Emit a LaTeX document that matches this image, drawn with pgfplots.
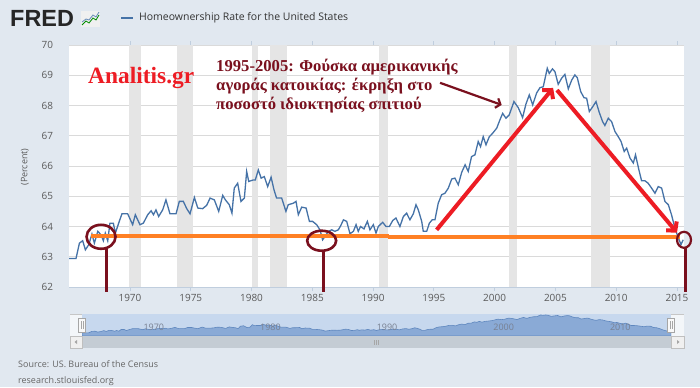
\documentclass[border=0pt]{standalone}
\usepackage{pgfplots}
\pgfplotsset{compat=1.18}
\usepackage{pgfplotstable}
\usepackage{fontspec}
\setmainfont{Open Sans}
\newfontfamily\lserif{Liberation Serif}
\newfontfamily\lsans{Liberation Sans}
\usetikzlibrary{arrows.meta}
\definecolor{bgc}{RGB}{225,232,240}
\definecolor{fredblue}{RGB}{69,114,167}
\definecolor{recg}{RGB}{229,229,229}
\definecolor{gridc}{RGB}{218,218,218}
\definecolor{axc}{RGB}{192,206,222}
\definecolor{tickc}{RGB}{90,90,90}
\definecolor{annred}{RGB}{237,28,36}
\definecolor{darkred}{RGB}{122,16,30}
\definecolor{orangec}{RGB}{255,128,36}
\definecolor{navbg}{RGB}{199,216,238}
\definecolor{navfill}{RGB}{138,170,214}
\definecolor{navline}{RGB}{95,135,190}
\definecolor{navtext}{RGB}{120,128,145}
\definecolor{scrollc}{RGB}{196,204,212}

\pgfplotstableread{
year value
1965.00 62.94
1965.56 62.94
1965.84 63.45
1966.11 63.53
1966.33 63.23
1966.61 63.40
1966.87 63.75
1967.07 63.45
1967.35 63.84
1967.61 63.73
1967.81 63.53
1967.97 63.78
1968.17 63.53
1968.35 64.11
1968.63 64.11
1968.80 63.78
1969.12 64.17
1969.34 64.42
1969.81 64.42
1970.22 64.06
1970.44 64.39
1970.82 64.06
1971.10 64.11
1971.46 64.39
1971.74 64.52
1971.93 64.39
1972.14 64.55
1972.36 64.33
1972.69 64.55
1972.96 64.88
1973.29 64.42
1973.79 64.42
1974.06 64.83
1974.39 64.83
1974.67 64.59
1974.94 64.42
1975.30 64.96
1975.58 64.61
1975.98 64.59
1976.31 64.70
1976.59 64.94
1976.94 64.88
1977.30 64.50
1977.63 65.03
1977.85 64.88
1978.17 64.72
1978.39 64.44
1978.58 65.27
1978.86 65.43
1979.13 64.83
1979.41 64.94
1979.60 65.82
1979.77 65.49
1980.15 65.54
1980.31 65.54
1980.56 65.87
1980.79 65.60
1981.05 65.65
1981.33 65.32
1981.61 65.63
1981.85 65.21
1982.06 64.94
1982.48 64.94
1982.83 64.50
1983.02 64.72
1983.44 64.77
1983.66 64.83
1983.85 64.39
1984.13 64.64
1984.49 64.61
1984.76 64.17
1985.02 64.17
1985.36 64.06
1985.63 63.89
1985.85 63.56
1986.04 63.67
1986.32 63.84
1986.60 63.89
1986.86 63.84
1987.14 63.89
1987.34 64.03
1987.56 64.22
1987.83 64.17
1988.10 63.76
1988.38 63.84
1988.60 64.06
1988.78 63.84
1988.97 64.00
1989.25 63.92
1989.53 64.17
1989.74 63.89
1990.02 64.06
1990.24 63.78
1990.43 64.00
1990.79 64.14
1991.06 64.00
1991.34 64.00
1991.62 64.20
1991.88 64.28
1992.21 64.00
1992.49 64.33
1992.76 64.44
1993.03 64.22
1993.31 64.42
1993.53 64.72
1993.72 64.55
1994.00 64.17
1994.13 63.84
1994.41 63.84
1994.63 64.11
1994.86 64.22
1995.09 64.22
1995.36 64.77
1995.64 65.05
1995.91 65.10
1996.19 65.27
1996.47 65.57
1996.73 65.60
1997.01 65.38
1997.29 65.79
1997.57 66.04
1997.83 65.82
1998.10 66.31
1998.38 66.37
1998.65 66.81
1998.84 66.64
1999.06 66.97
1999.29 66.70
1999.56 66.97
1999.83 67.08
2000.17 67.25
2000.43 67.52
2000.66 67.74
2000.93 67.58
2001.20 67.69
2001.59 68.13
2001.94 67.93
2002.30 67.60
2002.57 68.04
2002.85 68.35
2003.13 68.02
2003.45 68.41
2003.73 68.59
2004.00 68.62
2004.33 69.23
2004.49 69.06
2004.76 69.21
2004.96 69.12
2005.23 68.70
2005.51 68.90
2005.78 69.03
2006.06 68.55
2006.34 68.84
2006.60 69.01
2006.80 68.92
2007.08 68.46
2007.35 68.26
2007.57 68.24
2007.79 67.80
2008.07 67.96
2008.34 68.13
2008.60 67.78
2008.88 67.47
2009.07 67.34
2009.35 67.58
2009.62 67.47
2009.90 67.14
2010.17 66.97
2010.40 66.81
2010.66 66.48
2010.86 66.59
2011.14 66.26
2011.41 66.10
2011.59 66.37
2011.87 65.87
2012.09 65.51
2012.37 65.51
2012.63 65.43
2012.91 65.27
2013.19 65.10
2013.46 65.32
2013.74 65.27
2014.01 64.83
2014.29 64.72
2014.55 64.39
2014.83 63.95
2015.10 63.64
2015.33 63.40
2015.51 63.56
}\homedata

\begin{document}
\begin{tikzpicture}
\begin{scope}[x=1bp,y=1bp]
\fill[bgc] (0,0) rectangle (700,387);
\useasboundingbox (0,0) rectangle (700,387);
% header
\node[anchor=west, inner sep=0, font=\lsans\bfseries\fontsize{23.5}{24}\selectfont, text=black!85] at (10,369) {FRED};
\fill[gray!12] (81,360) rectangle (100,376);
\draw[green!55!black, line width=0.8bp] (82,362) -- (86,366) -- (89,364) -- (93,369) -- (96,367) -- (99,372);
\draw[fredblue!80, line width=0.8bp] (82,365) -- (86,368) -- (89,367) -- (93,372) -- (96,370) -- (99,375);
\draw[fredblue, line width=1.5bp] (121,369) -- (133,369);
\node[anchor=west, inner sep=0, font=\fontsize{10.5}{12}\selectfont, text=black!80] at (139,369) {Homeownership Rate for the United States};
% y label
\node[rotate=90, inner sep=0, font=\fontsize{9}{10}\selectfont, text=tickc] at (25,220) {(Percent)};
% navigator frame
\fill[white!60!bgc] (70,51) rectangle (684,73);
\draw[gray!45, line width=0.8bp] (70,73) -- (684,73);
\end{scope}

\begin{axis}[
  at={(69.2bp,100bp)}, anchor=south west,
  scale only axis, width=614.8bp, height=242bp,
  xmin=1965, xmax=2015.58, ymin=62, ymax=70,
  axis background/.style={fill=white},
  axis line style={draw=none},
  ytick={62,63,...,70}, xtick={1970,1975,...,2015},
  ymajorgrids, major grid style={draw=gridc, line width=0.8bp},
  ytick style={draw=none},
  xtick style={draw=axc, line width=0.8bp},
  tick align=outside, major tick length=4bp,
  /pgf/number format/assume math mode=true,
  /pgf/number format/1000 sep={},
  tick label style={font=\fontsize{10}{12}\selectfont, text=tickc},
  yticklabel style={inner sep=0, anchor=east, xshift=-12bp},
  xticklabel style={inner sep=0, anchor=north, yshift=-3bp},
  clip=false,
]
% recessions
\addplot[fill=recg, draw=none] coordinates {(1969.92,62) (1969.92,70) (1970.88,70) (1970.88,62)} -- cycle;
\addplot[fill=recg, draw=none] coordinates {(1973.83,62) (1973.83,70) (1975.21,70) (1975.21,62)} -- cycle;
\addplot[fill=recg, draw=none] coordinates {(1980.0,62) (1980.0,70) (1980.54,70) (1980.54,62)} -- cycle;
\addplot[fill=recg, draw=none] coordinates {(1981.5,62) (1981.5,70) (1982.88,70) (1982.88,62)} -- cycle;
\addplot[fill=recg, draw=none] coordinates {(1990.5,62) (1990.5,70) (1991.21,70) (1991.21,62)} -- cycle;
\addplot[fill=recg, draw=none] coordinates {(2001.17,62) (2001.17,70) (2001.88,70) (2001.88,62)} -- cycle;
\addplot[fill=recg, draw=none] coordinates {(2007.92,62) (2007.92,70) (2009.46,70) (2009.46,62)} -- cycle;
\draw[axc, line width=1bp] (rel axis cs:0,0) -- (rel axis cs:1,0);

\addplot[fredblue, line width=1.3bp] table[x=year, y=value] {\homedata};

% annotations
\addplot[orangec, line width=4.5bp] coordinates {(1966.79,63.69) (1991.3,63.69)};
\addplot[orangec, line width=4.5bp] coordinates {(1991.2,63.65) (2015.25,63.65)};
\addplot[annred, line width=4bp, -{Straight Barb[length=6bp, width=14bp]}] coordinates {(1995.23,63.89) (2004.81,68.58)};
\addplot[annred, line width=4bp, -{Straight Barb[length=6bp, width=14bp]}] coordinates {(2005.13,68.51) (2015.0,63.80)};
\addplot[darkred, line width=2.2bp, -{Straight Barb[length=4bp, width=10bp]}] coordinates {(1995.51,68.75) (2000.58,68.02)};

\draw[darkred, line width=2.6bp] (axis cs:1967.62,63.66) ellipse [x radius=14.5bp, y radius=12bp];
\draw[darkred, line width=2.6bp] (axis cs:1985.77,63.53) ellipse [x radius=14.5bp, y radius=10bp];
\draw[darkred, line width=2.2bp] (axis cs:2015.58,63.56) ellipse [x radius=7bp, y radius=8bp];
\addplot[darkred, line width=2.8bp] coordinates {(1968.07,63.27) (1968.07,61.82)};
\addplot[darkred, line width=2.8bp] coordinates {(1985.92,63.2) (1985.92,61.82)};
\addplot[darkred, line width=2.8bp] coordinates {(2015.71,63.3) (2015.71,61.82)};

\node[anchor=west, inner sep=0, text=annred, font=\lserif\bfseries\fontsize{23.5}{25}\selectfont] at (axis cs:1966.55,68.9) {Analitis.gr};
\node[anchor=north west, inner sep=0, align=left, text=darkred, font=\lserif\bfseries\fontsize{16.7}{19}\selectfont] at (axis cs:1977.08,69.55) {1995-2005: Φούσκα αμερικανικής\\αγοράς κατοικίας: έκρηξη στο\\ποσοστό ιδιοκτησίας σπιτιού};
\end{axis}

\begin{axis}[
  at={(82bp,51bp)}, anchor=south west,
  scale only axis, width=589bp, height=22bp,
  xmin=1965, xmax=2015.5, ymin=61.85, ymax=69.55,
  axis background/.style={fill=navbg},
  axis line style={draw=none},
  axis on top,
  ytick=\empty, xtick={1970,1980,...,2010},
  xtick style={draw=none},
  /pgf/number format/assume math mode=true,
  /pgf/number format/1000 sep={},
  xticklabel style={inner sep=0, anchor=west, xshift=3bp, yshift=9bp, font=\fontsize{9}{10}\selectfont, text=navtext},
]
\addplot[fill=navfill, draw=navline, line width=0.6bp] table[x=year, y=value] {\homedata} \closedcycle;
\end{axis}

\begin{scope}[x=1bp,y=1bp]
% navigator handles
\foreach \hx in {82,671}{
  \fill[white!95!gray] (\hx-3.5,55) rectangle (\hx+3.5,69);
  \draw[gray!70, line width=0.5bp] (\hx-3.5,55) rectangle (\hx+3.5,69);
  \draw[gray!70, line width=0.5bp] (\hx-1,58) -- (\hx-1,66) (\hx+1,58) -- (\hx+1,66);
}
% scrollbar
\fill[scrollc] (70,39) rectangle (684,51);
\fill[gray!12] (70,39) rectangle (82,51);
\fill[gray!12] (671,39) rectangle (684,51);
\draw[gray!50, line width=0.5bp] (70,39) rectangle (82,51) (671,39) rectangle (684,51);
\fill[gray!70] (74.5,45) -- (77,47) -- (77,43) -- cycle;
\fill[gray!70] (679.5,45) -- (677,47) -- (677,43) -- cycle;
\draw[gray!70, line width=0.6bp] (374.5,42.5) -- (374.5,47.5) (376.5,42.5) -- (376.5,47.5) (378.5,42.5) -- (378.5,47.5);
% source
\node[anchor=west, inner sep=0, font=\fontsize{9}{10}\selectfont, text=black!60] at (18,23) {Source: US. Bureau of the Census};
\node[anchor=west, inner sep=0, font=\fontsize{9}{10}\selectfont, text=black!60] at (18,6) {research.stlouisfed.org};
\end{scope}
\end{tikzpicture}
\end{document}
